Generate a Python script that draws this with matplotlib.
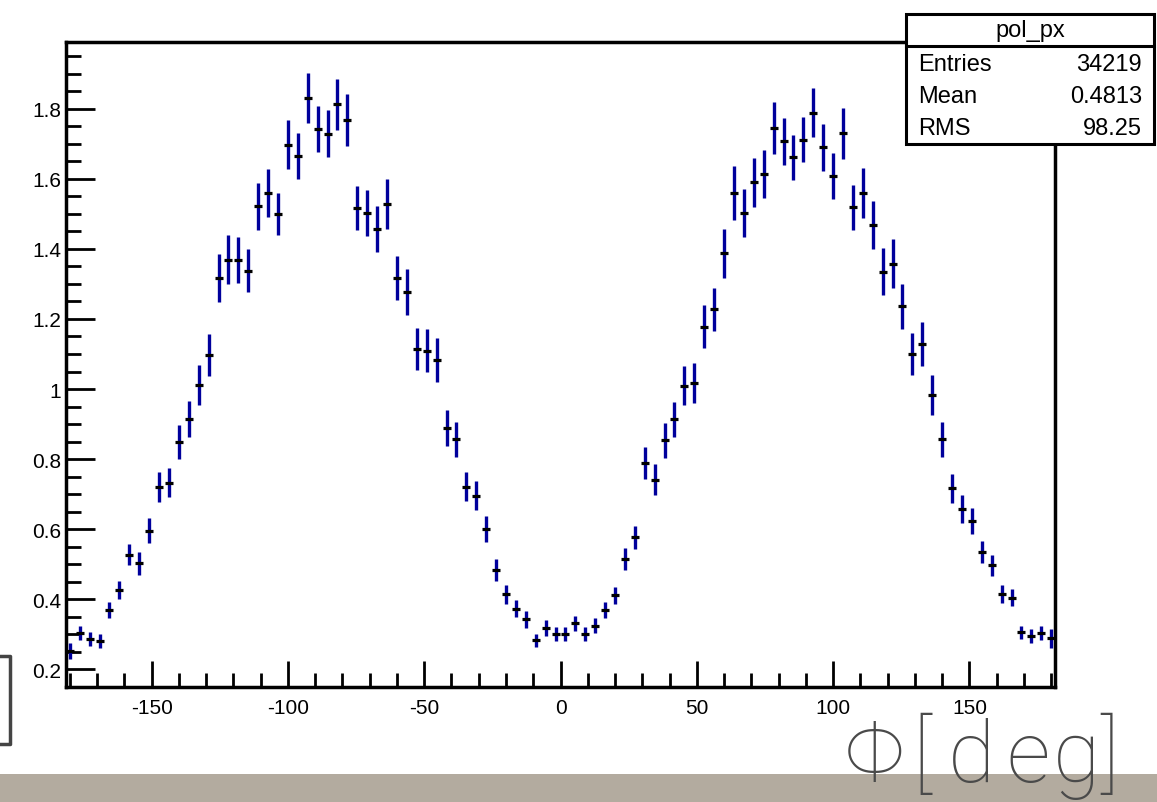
import numpy as np
import matplotlib
matplotlib.use("Agg")
import matplotlib.pyplot as plt
from matplotlib.patches import Rectangle
from matplotlib.ticker import MultipleLocator

# 100 points, evenly spread from -180 to 180 deg
phi = np.linspace(-180, 180, 100)

counts = [
    0.252, 0.302, 0.286, 0.279, 0.369, 0.427, 0.527, 0.502, 0.595, 0.721,
    0.733, 0.849, 0.914, 1.012, 1.098, 1.317, 1.369, 1.369, 1.338, 1.522,
    1.559, 1.500, 1.698, 1.665, 1.831, 1.742, 1.729, 1.813, 1.768, 1.517,
    1.502, 1.457, 1.528, 1.317, 1.276, 1.113, 1.109, 1.083, 0.888, 0.856,
    0.721, 0.695, 0.599, 0.484, 0.414, 0.373, 0.342, 0.282, 0.318, 0.300,
    0.300, 0.331, 0.300, 0.324, 0.369, 0.411, 0.514, 0.576, 0.789, 0.741,
    0.854, 0.913, 1.009, 1.017, 1.178, 1.228, 1.387, 1.560, 1.502, 1.590,
    1.614, 1.745, 1.707, 1.662, 1.712, 1.789, 1.690, 1.609, 1.730, 1.519,
    1.559, 1.468, 1.335, 1.358, 1.236, 1.101, 1.128, 0.983, 0.857, 0.716,
    0.657, 0.623, 0.535, 0.497, 0.414, 0.404, 0.305, 0.295, 0.303, 0.288,
]

errors = [
    0.024, 0.020, 0.020, 0.020, 0.022, 0.026, 0.031, 0.032, 0.036, 0.043,
    0.041, 0.048, 0.051, 0.057, 0.060, 0.069, 0.070, 0.066, 0.062, 0.067,
    0.068, 0.061, 0.069, 0.065, 0.071, 0.066, 0.067, 0.073, 0.074, 0.064,
    0.065, 0.066, 0.072, 0.063, 0.066, 0.060, 0.061, 0.063, 0.051, 0.050,
    0.042, 0.041, 0.037, 0.031, 0.027, 0.025, 0.024, 0.019, 0.022, 0.020,
    0.020, 0.021, 0.020, 0.021, 0.022, 0.024, 0.032, 0.034, 0.045, 0.044,
    0.050, 0.051, 0.056, 0.056, 0.062, 0.061, 0.069, 0.076, 0.068, 0.069,
    0.069, 0.074, 0.068, 0.064, 0.065, 0.070, 0.068, 0.066, 0.073, 0.065,
    0.072, 0.069, 0.067, 0.069, 0.064, 0.060, 0.063, 0.056, 0.050, 0.041,
    0.039, 0.037, 0.032, 0.030, 0.026, 0.025, 0.019, 0.019, 0.019, 0.028,
]

stats_title = "pol_px"
stats_rows = [("Entries", "34219"), ("Mean", "0.4813"), ("RMS", "98.25")]

plt.rcParams['font.family'] = ['Liberation Sans', 'DejaVu Sans']
plt.rcParams['axes.unicode_minus'] = False

fig = plt.figure(figsize=(11.57, 8.03), dpi=100)
fig.patch.set_facecolor("white")

# slide decoration: textured band at the bottom
fig.patches.append(Rectangle((0, 0), 1, 28 / 803, transform=fig.transFigure,
                             facecolor="#b3ab9f", edgecolor="none", zorder=0))

ax = fig.add_axes([66 / 1157, 1 - 688 / 803, (1055 - 66) / 1157, (688 - 43) / 803])

ax.errorbar(phi, counts, yerr=errors, fmt="none", ecolor="#00009c",
            elinewidth=2.4, capsize=0, zorder=3)
ax.plot(phi, counts, linestyle="none", marker="_", color="black",
        markersize=6, markeredgewidth=2.3, zorder=4)

ax.set_xlim(-181.4, 181.4)
ax.set_ylim(0.149, 1.991)

ax.xaxis.set_major_locator(MultipleLocator(50))
ax.xaxis.set_minor_locator(MultipleLocator(10))
ax.yaxis.set_minor_locator(MultipleLocator(0.05))
ax.set_yticks([0.2, 0.4, 0.6, 0.8, 1.0, 1.2, 1.4, 1.6, 1.8])
ax.set_yticklabels(["0.2", "0.4", "0.6", "0.8", "1", "1.2", "1.4", "1.6", "1.8"])

ax.tick_params(axis="both", which="both", direction="in", color="black",
               labelsize=15, top=False, right=False)
ax.tick_params(axis="y", which="major", length=21, width=2)
ax.tick_params(axis="y", which="minor", length=11, width=2)
ax.tick_params(axis="x", which="major", length=19, width=2, pad=8)
ax.tick_params(axis="x", which="minor", length=10, width=2)
for s in ax.spines.values():
    s.set_linewidth(2.5)

# stats box
bx0, bx1 = 906 / 1157, 1154 / 1157
by0, by1 = 1 - 145 / 803, 1 - 15 / 803
fig.patches.append(Rectangle((bx0, by0), bx1 - bx0, by1 - by0, transform=fig.transFigure,
                             facecolor="white", edgecolor="black", linewidth=2.2, zorder=5))
fig.lines.append(plt.Line2D([bx0, bx1], [1 - 47 / 803] * 2, transform=fig.transFigure,
                            color="black", linewidth=2.2, zorder=6))
fig.text((bx0 + bx1) / 2, 1 - 31 / 803, stats_title, ha="center", va="center",
         fontsize=17, zorder=7)
for i, (name, val) in enumerate(stats_rows):
    y = 1 - (65 + 32 * i) / 803
    fig.text(918 / 1157, y, name, ha="left", va="center", fontsize=17, zorder=7)
    fig.text(1142 / 1157, y, val, ha="right", va="center", fontsize=17, zorder=7)

# axis title from the slide (thin, widely spaced letters)
title_chars = ["Φ", "[", "d", "e", "g", "]"]
title_x = [874, 922, 971, 1028, 1076, 1110]
for ch, xc in zip(title_chars, title_x):
    fig.text(xc / 1157, 1 - 782 / 803, ch, ha="center", va="baseline",
             fontsize=62, color="#4a4a4a", family=["Roboto", "DejaVu Sans"],
             fontweight="light", zorder=8)

# bracket fragment at the left edge
fig.lines.append(plt.Line2D([0, 10 / 1157, 10 / 1157, 0],
                            [1 - 657 / 803, 1 - 657 / 803, 1 - 745 / 803, 1 - 745 / 803],
                            transform=fig.transFigure, color="#444444", linewidth=2.5))

fig.savefig("out.png", dpi=100)
